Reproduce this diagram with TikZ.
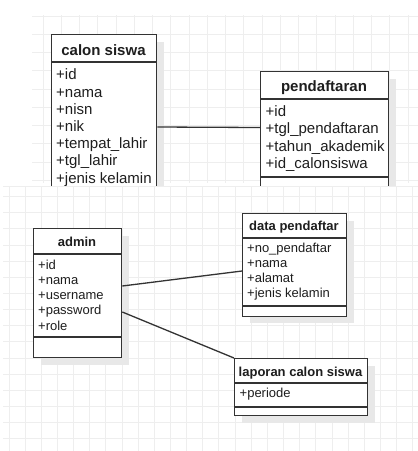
\documentclass[tikz,border=0pt]{standalone}
\usepackage{fontspec}
\setmainfont{Liberation Sans}
\usetikzlibrary{shadows,calc}
\definecolor{gridc}{RGB}{238,238,238}
\definecolor{linec}{RGB}{51,51,51}
\definecolor{txtc}{RGB}{30,30,30}
\definecolor{shadc}{RGB}{232,232,232}
\begin{document}
\begin{tikzpicture}[x=1pt,y=-1pt,
  gridline/.style={draw=gridc,line width=0.6pt},
  umlbox/.style={draw=linec,line width=1.3pt,fill=white,anchor=north west,inner sep=0pt,
     drop shadow={shadow xshift=7pt,shadow yshift=-7pt,fill=shadc,opacity=1}},
  sepline/.style={draw=linec,line width=1.3pt},
  conn/.style={draw=linec,line width=1.3pt},
  topattr/.style={anchor=base west,inner sep=0pt,text=txtc,font=\fontsize{15}{17}\selectfont},
  tophead/.style={anchor=base,inner sep=0pt,text=txtc,font=\fontsize{15}{17}\selectfont\bfseries},
  botattr/.style={anchor=base west,inner sep=0pt,text=txtc,font=\fontsize{13}{15}\selectfont},
  bothead/.style={anchor=base,inner sep=0pt,text=txtc,font=\fontsize{13}{15}\selectfont\bfseries}]
\useasboundingbox (0,0) rectangle (418,451);
\fill[white] (0,0) rectangle (418,451);
% grids
\foreach \i in {0,...,20} \draw[gridline] ({43+18.25*\i},15) -- ({43+18.25*\i},183);
\foreach \j in {0,...,9} \draw[gridline] (32,{16+18.25*\j}) -- (418,{16+18.25*\j});
\foreach \i in {0,...,25} \draw[gridline] ({8.8+16.15*\i},186) -- ({8.8+16.15*\i},451);
\foreach \j in {0,...,15} \draw[gridline] (3,{196.35+16.15*\j}) -- (418,{196.35+16.15*\j});
\draw[gridline] (3,186.5) -- (418,186.5);
% top part
\begin{scope}
\clip (0,0) rectangle (418,185.5);
\node[umlbox,minimum width=105pt,minimum height=170pt] (cs) at (51,34) {};
\draw[sepline] ($(cs.north west)+(0,28)$) -- ($(cs.north east)+(0,28)$);
\node[tophead] (csh) at (103.5,55) {calon siswa};
\node[topattr] (cs1) at (56,79.8) {+id};
\node[topattr] (cs2) at (56,97) {+nama};
\node[topattr] (cs3) at (56,114.2) {+nisn};
\node[topattr] (cs4) at (56,131.4) {+nik};
\node[topattr] (cs5) at (56,148.6) {+tempat\_lahir};
\node[topattr] (cs6) at (56,165.8) {+tgl\_lahir};
\node[topattr] (cs7) at (56,183) {+jenis kelamin};
\node[umlbox,minimum width=128pt,minimum height=130pt] (pd) at (260,71) {};
\draw[sepline] ($(pd.north west)+(0,28)$) -- ($(pd.north east)+(0,28)$);
\draw[sepline] ($(pd.north west)+(0,106)$) -- ($(pd.north east)+(0,106)$);
\node[tophead] (pdh) at (324,91.5) {pendaftaran};
\node[topattr] (pd1) at (265.5,116.7) {+id};
\node[topattr] (pd2) at (265.5,133.9) {+tgl\_pendaftaran};
\node[topattr] (pd3) at (265.5,151.1) {+tahun\_akademik};
\node[topattr] (pd4) at (265.5,168.3) {+id\_calonsiswa};
\draw[conn] (cs.east |- 0,127) -- (pd.west |- 0,127.5);
\end{scope}
% bottom part
\node[umlbox,minimum width=88pt,minimum height=129pt] (ad) at (33,228) {};
\draw[sepline] ($(ad.north west)+(0,26)$) -- ($(ad.north east)+(0,26)$);
\draw[sepline] ($(ad.north west)+(0,109)$) -- ($(ad.north east)+(0,109)$);
\node[bothead] (adh) at (77,246.5) {admin};
\node[botattr] (ad1) at (38,269) {+id};
\node[botattr] (ad2) at (38,284.25) {+nama};
\node[botattr] (ad3) at (38,299.5) {+username};
\node[botattr] (ad4) at (38,314.75) {+password};
\node[botattr] (ad5) at (38,330) {+role};
\node[umlbox,minimum width=104pt,minimum height=102.5pt] (dp) at (242,213) {};
\draw[sepline] ($(dp.north west)+(0,25)$) -- ($(dp.north east)+(0,25)$);
\draw[sepline] ($(dp.north west)+(0,93)$) -- ($(dp.north east)+(0,93)$);
\node[bothead] (dph) at (294,230.5) {data pendaftar};
\node[botattr] (dp1) at (247,252.5) {+no\_pendaftar};
\node[botattr] (dp2) at (247,267.6) {+nama};
\node[botattr] (dp3) at (247,282.7) {+alamat};
\node[botattr] (dp4) at (247,297.8) {+jenis kelamin};
\node[umlbox,minimum width=133pt,minimum height=57pt] (lp) at (234,358) {};
\draw[sepline] ($(lp.north west)+(0,25)$) -- ($(lp.north east)+(0,25)$);
\draw[sepline] ($(lp.north west)+(0,49)$) -- ($(lp.north east)+(0,49)$);
\node[bothead] (lph) at (300.5,376) {laporan calon siswa};
\node[botattr] (lp1) at (239.5,397.5) {+periode};
\draw[conn] (ad.east |- 0,286) -- (dp.west |- 0,271);
\draw[conn] (ad.east |- 0,312) -- (lp.north west);
\end{tikzpicture}
\end{document}
